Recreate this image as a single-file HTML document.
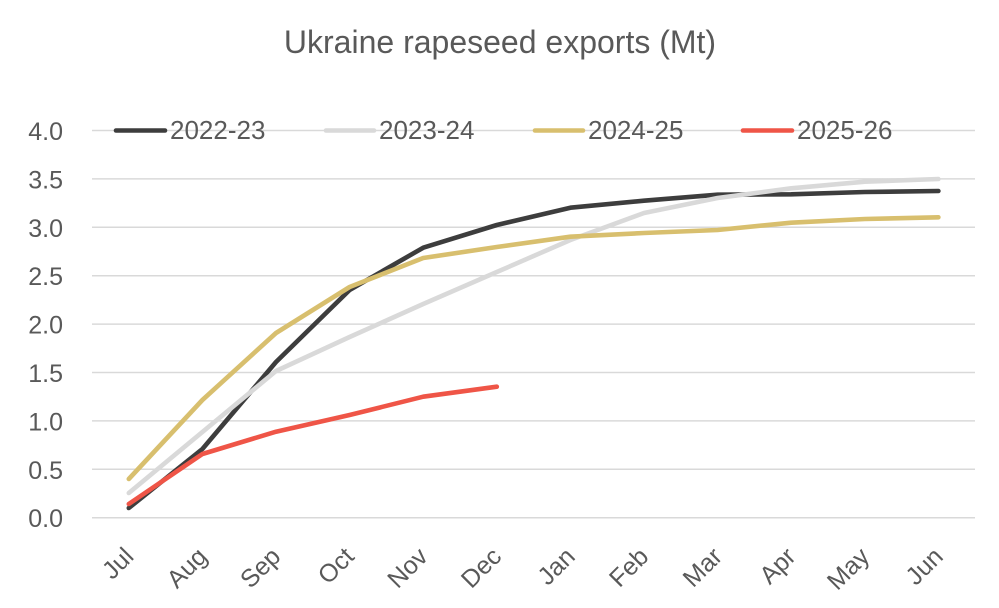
<!DOCTYPE html>
<html><head><meta charset="utf-8"><style>
html,body{margin:0;padding:0;background:#fff;}
svg{display:block;}
text{font-family:"Liberation Sans",sans-serif;fill:#595959;}
</style></head><body>
<svg width="999" height="608" viewBox="0 0 999 608" xmlns="http://www.w3.org/2000/svg">
<rect width="999" height="608" fill="#fff"/>
<text x="500" y="53" font-size="32" text-anchor="middle">Ukraine rapeseed exports (Mt)</text>
<g stroke="#d9d9d9" stroke-width="1.5">
<line x1="92" x2="975" y1="130.5" y2="130.5"/>
<line x1="92" x2="975" y1="178.9" y2="178.9"/>
<line x1="92" x2="975" y1="227.3" y2="227.3"/>
<line x1="92" x2="975" y1="275.7" y2="275.7"/>
<line x1="92" x2="975" y1="324.1" y2="324.1"/>
<line x1="92" x2="975" y1="372.5" y2="372.5"/>
<line x1="92" x2="975" y1="420.9" y2="420.9"/>
<line x1="92" x2="975" y1="469.3" y2="469.3"/>
<line x1="92" x2="975" y1="517.7" y2="517.7"/>
</g>
<g font-size="25" text-anchor="end">
<text x="63" y="140">4.0</text>
<text x="63" y="188.4">3.5</text>
<text x="63" y="236.8">3.0</text>
<text x="63" y="285.2">2.5</text>
<text x="63" y="333.6">2.0</text>
<text x="63" y="382">1.5</text>
<text x="63" y="430.4">1.0</text>
<text x="63" y="478.8">0.5</text>
<text x="63" y="527.2">0.0</text>
</g>
<g font-size="25" text-anchor="end">
<text transform="translate(135,558) rotate(-45)">Jul</text>
<text transform="translate(208.4,558) rotate(-45)">Aug</text>
<text transform="translate(282,558) rotate(-45)">Sep</text>
<text transform="translate(355.6,558) rotate(-45)">Oct</text>
<text transform="translate(429.2,558) rotate(-45)">Nov</text>
<text transform="translate(502.8,558) rotate(-45)">Dec</text>
<text transform="translate(576.4,558) rotate(-45)">Jan</text>
<text transform="translate(650,558) rotate(-45)">Feb</text>
<text transform="translate(723.6,558) rotate(-45)">Mar</text>
<text transform="translate(797.2,558) rotate(-45)">Apr</text>
<text transform="translate(870.8,558) rotate(-45)">May</text>
<text transform="translate(944.4,558) rotate(-45)">Jun</text>
</g>
<g fill="none" stroke-width="4.6" stroke-linecap="round" stroke-linejoin="round">
<polyline stroke="#3d3d3d" points="128.8,508 202.4,449 276,362 349.6,290 423.2,247.7 496.8,225 570.4,207.7 644,200.7 717.6,194.7 791.2,194.3 864.8,192 938.4,191"/>
<polyline stroke="#d9d9d9" points="128.8,493 202.4,432 276,371 349.6,337 423.2,304 496.8,272 570.4,240 644,213 717.6,198 791.2,188.3 864.8,181.7 938.4,179"/>
<polyline stroke="#d8bf6e" points="128.8,479 202.4,400 276,333 349.6,287 423.2,258 496.8,247 570.4,236.7 644,233 717.6,230 791.2,222.7 864.8,219 938.4,217.3"/>
<polyline stroke="#ef5547" points="128.8,504 202.4,454 276,431.7 349.6,415 423.2,396.7 496.8,386.7"/>
</g>
<g stroke-width="4.6" stroke-linecap="round">
<line x1="116" x2="165" y1="130.5" y2="130.5" stroke="#3d3d3d"/>
<line x1="326" x2="374" y1="130.5" y2="130.5" stroke="#d9d9d9"/>
<line x1="535" x2="583" y1="130.5" y2="130.5" stroke="#d8bf6e"/>
<line x1="743" x2="792" y1="130.5" y2="130.5" stroke="#ef5547"/>
</g>
<g font-size="26">
<text x="170" y="139">2022-23</text>
<text x="379" y="139">2023-24</text>
<text x="588" y="139">2024-25</text>
<text x="797" y="139">2025-26</text>
</g>
</svg>
</body></html>
